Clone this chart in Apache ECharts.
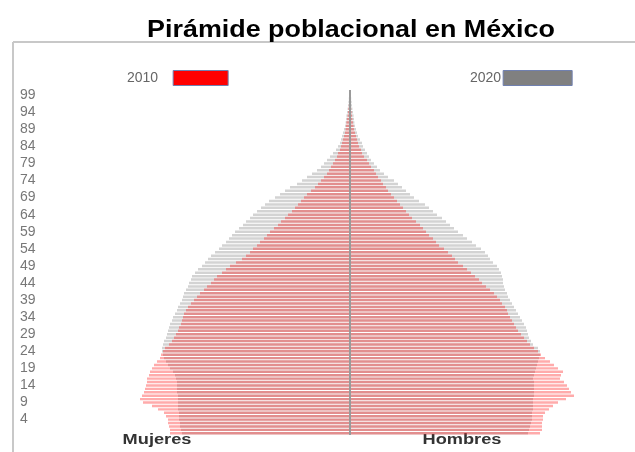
<!DOCTYPE html>
<html><head><meta charset="utf-8">
<script src="https://cdn.jsdelivr.net/npm/echarts@6/dist/echarts.min.js"></script>
<style>html,body{margin:0;padding:0;background:#fff}#c{width:635px;height:452px}</style>
</head><body><div id="c"></div>
<script>
// Edad (años cumplidos) 0..100
const ages = ['0','1','2','3','4','5','6','7','8','9','10','11','12','13','14','15','16','17','18','19','20',
'21','22','23','24','25','26','27','28','29','30','31','32','33','34','35','36','37','38','39','40',
'41','42','43','44','45','46','47','48','49','50','51','52','53','54','55','56','57','58','59','60',
'61','62','63','64','65','66','67','68','69','70','71','72','73','74','75','76','77','78','79','80',
'81','82','83','84','85','86','87','88','89','90','91','92','93','94','95','96','97','98','99','100'];
const tickLabels = ['4','9','14','19','24','29','34','39','44','49','54','59','64','69','74','79','84','89','94','99'];

// Población (miles), por edad 0..100
const hombres2010 = [950,960,960,960,965,965,975,995,1015,1040,1080,1120,1105,1095,1085,1070,1050,1055,1065,1040,1020,
1000,975,955,940,920,900,885,870,855,840,830,820,810,800,790,785,775,760,750,735,
720,700,680,660,645,625,605,585,565,540,525,510,490,470,445,430,415,395,380,365,
350,330,310,295,280,265,250,235,220,205,190,180,165,155,140,130,120,105,95,85,
70,60,55,45,40,35,30,25,20,18,15,12,10,8,6,5,4,3,3,3];
const hombres2020 = [890,895,900,905,910,910,910,915,915,915,915,920,920,920,920,920,915,920,925,930,935,
940,945,950,950,940,915,905,895,890,885,880,870,860,850,840,830,820,810,800,790,
785,775,770,765,765,760,755,745,735,715,700,690,675,655,630,610,585,565,540,520,
500,480,460,435,415,395,375,345,320,300,280,260,240,220,190,170,150,135,120,105,
95,85,75,65,60,50,40,35,30,25,22,20,18,15,12,10,8,6,5,5];
const mujeres2010 = [900,900,905,910,910,920,930,960,990,1035,1050,1040,1030,1025,1020,1015,1015,1005,1000,990,980,
965,950,945,935,925,905,890,880,870,860,855,845,840,835,830,820,810,795,780,765,
750,730,715,695,680,665,640,620,600,570,540,520,500,485,465,450,430,415,400,380,
360,345,325,310,290,275,260,245,230,215,195,175,160,145,130,115,105,95,85,75,
65,60,50,45,40,35,30,25,22,20,18,15,12,10,8,6,5,4,3,3];
const mujeres2020 = [840,845,850,850,855,855,855,860,860,860,860,860,865,865,865,865,870,875,885,900,910,
920,930,935,940,940,935,930,920,915,910,905,900,890,885,875,865,860,850,840,835,
830,820,810,805,795,790,775,760,740,725,710,695,675,655,640,620,605,590,575,555,
535,520,500,485,465,445,425,405,375,350,325,300,265,240,215,190,165,145,130,115,
100,85,70,60,50,45,40,35,30,25,22,20,18,15,12,10,8,6,5,5];

const chart = echarts.init(document.getElementById('c'));
const neg = a => a.map(v => -v);
const gray = 'rgba(128,128,128,0.35)';
const red = 'rgba(255,0,0,0.33)';
const barCommon = {type:'bar', barGap:'-100%', barCategoryGap:'28%', silent:true};
const legendText = {color:'#666', fontSize:14, fontFamily:'Liberation Sans'};

chart.setOption({
  animation:false,
  grid:{left:120, right:55, top:90, bottom:17},
  legend:[
    {left:122, top:65, align:'right', icon:'rect', itemWidth:55, itemHeight:15, selectedMode:false,
     textStyle:Object.assign({padding:[0,10,0,0]}, legendText),
     data:[{name:'2010', itemStyle:{color:'#ff0000', opacity:1, borderColor:'#7080b0', borderWidth:1}}]},
    {left:465, top:65, align:'right', icon:'rect', itemWidth:69, itemHeight:15, selectedMode:false,
     textStyle:Object.assign({padding:[0,-3,0,0]}, legendText),
     data:[{name:'2020', itemStyle:{color:'#808080', opacity:1, borderColor:'#7080b0', borderWidth:1}}]}
  ],
  xAxis:{type:'value', min:-1150, max:1150, show:false},
  yAxis:{type:'category', data:ages, position:'left',
     axisLine:{show:false}, axisTick:{show:false},
     axisLabel:{interval:(i,v)=>tickLabels.includes(v), align:'left', margin:100,
       color:'#777', fontSize:14, fontFamily:'Liberation Sans'}},
  series:[
    Object.assign({name:'2020', data:neg(mujeres2020), itemStyle:{color:gray},
      markLine:{silent:true, symbol:'none', label:{show:false},
        lineStyle:{color:'#9a9a9a', width:2, type:'solid'}, data:[{xAxis:0}]}}, barCommon),
    Object.assign({name:'2020', data:hombres2020, itemStyle:{color:gray}}, barCommon),
    Object.assign({name:'2010', data:neg(mujeres2010), itemStyle:{color:red}}, barCommon),
    Object.assign({name:'2010', data:hombres2010, itemStyle:{color:red}}, barCommon)
  ],
  graphic:[
    {type:'line', shape:{x1:13, y1:42, x2:635, y2:42}, style:{stroke:'#c8c8c8', lineWidth:2}},
    {type:'line', shape:{x1:13, y1:42, x2:13, y2:452}, style:{stroke:'#c8c8c8', lineWidth:2}},
    {type:'text', x:351, y:30, scaleX:1.12,
     style:{text:'Pirámide poblacional en México', font:'bold 24px "Liberation Sans", Arial, sans-serif',
       fill:'#000', align:'center', verticalAlign:'middle'}},
    {type:'text', x:157, y:440, scaleX:1.3,
     style:{text:'Mujeres', font:'bold 14px "Liberation Sans", Arial, sans-serif', fill:'#333', align:'center', verticalAlign:'middle'}},
    {type:'text', x:462, y:440, scaleX:1.3,
     style:{text:'Hombres', font:'bold 14px "Liberation Sans", Arial, sans-serif', fill:'#333', align:'center', verticalAlign:'middle'}}
  ]
});
</script></body></html>
